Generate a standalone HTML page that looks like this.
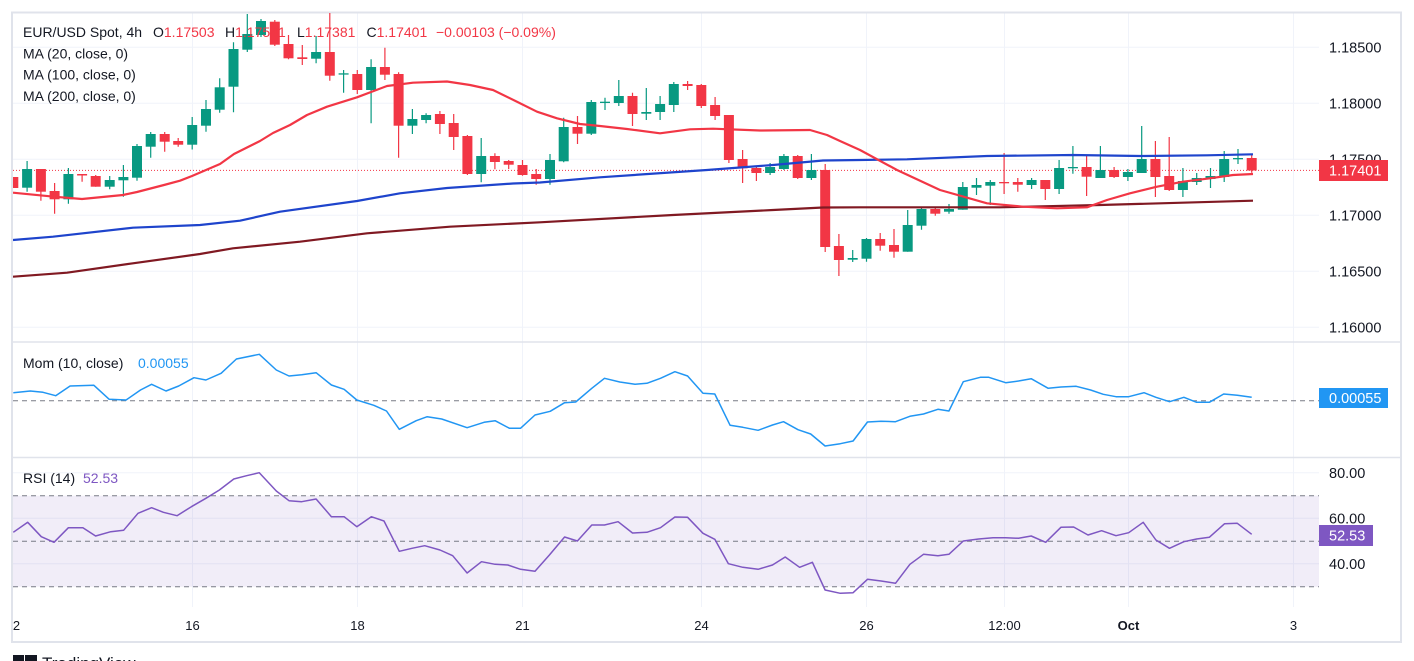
<!DOCTYPE html>
<html><head><meta charset="utf-8"><style>
html,body{margin:0;padding:0;background:#fff;width:1414px;height:661px;overflow:hidden}
svg{display:block}
text{font-family:"Liberation Sans",Arial,sans-serif}
</style></head><body>
<svg width="1414" height="661" viewBox="0 0 1414 661" xmlns="http://www.w3.org/2000/svg">
<defs>
<clipPath id="cm"><rect x="13" y="13" width="1306" height="329"/></clipPath>
<clipPath id="cp"><rect x="13" y="343" width="1306" height="114"/></clipPath>
<clipPath id="cr"><rect x="13" y="458" width="1306" height="149"/></clipPath>
</defs>
<rect width="1414" height="661" fill="#fff"/>
<g stroke="#f0f3fa" stroke-width="1">
<path d="M192.5 13V607M357.5 13V607M522.5 13V607M701.5 13V607M866.5 13V607M1004.5 13V607M1128.5 13V607M1293.5 13V607"/>
<path d="M13 47.3H1319M13 103.3H1319M13 159.3H1319M13 215.3H1319M13 271.3H1319M13 327.3H1319"/>
<path d="M13 472.7H1319M13 518.3H1319M13 563.7H1319"/>
</g>
<rect x="13" y="495.7" width="1306" height="91" fill="#7e57c2" fill-opacity="0.11"/>
<g stroke="#787b86" stroke-width="1" stroke-dasharray="5 4">
<path d="M13 495.7H1319M13 541.3H1319M13 586.7H1319"/>
<path d="M13 400.7H1319"/>
</g>
<g stroke="#e0e3eb" stroke-width="1.5">
<path d="M13 342H1401M13 457.5H1401"/>
</g>
<rect x="12" y="12.5" width="1389" height="629.5" fill="none" stroke="#e0e3eb" stroke-width="2"/>
<path d="M13 170.4H1319" stroke="#f23645" stroke-width="1" stroke-dasharray="1 2"/>
<g clip-path="url(#cm)">
<path stroke="#089981" stroke-width="1.2" fill="none" d="M27.1 161V191.7M68.4 168V203.7M109.7 176V189.3M123.4 165V196.7M137 144V180.7M150.7 132V157.7M192.2 117V149.5M206 100V131.7M219.7 78.3V112.7M233.5 42.3V112.3M247.3 14V52M261 19V37M316.1 36V63.3M343.6 70V92.7M371.1 59.3V123.3M412.4 109V134M426.1 113.3V123.3M481.2 138V182.3M550 154V184.7M563.7 117.7V162.3M591.3 100V135M605 97.7V110M618.8 80V106M646.3 88V120M660.1 96V120M673.8 82V112M770.1 163V175M783.9 154V170M811.4 154V180M852.7 250V262M866.5 238V261.7M907.7 210V251.7M921.5 207.7V229.7M949 204V213.7M962.8 182V209.7M976.5 178V195M990.3 180V205M1031.6 178V189M1059.1 160V194M1072.9 146V173.7M1100.4 146V178M1127.9 169V181M1141.7 126V173M1182.9 168V197M1196.7 173V185M1210.5 168V188M1224.2 151V182M1238 149V164"/>
<path stroke="#f23645" stroke-width="1.2" fill="none" d="M40.9 169V200.7M54.6 183V213.7M82.1 174V181.7M95.7 175V186.7M164.7 132V151.7M178.2 138V146.7M274.8 20V46M288.5 35V59.3M302.3 45V65M329.8 13V80.7M357.3 70V94M384.9 47.7V80M398.6 72.3V157.7M439.9 111V134M453.7 114V150M467.4 135V175M494.9 153.3V169.3M508.7 160V169M522.5 160V175.7M536.2 169V184.7M577.5 116V144M632.5 92.7V126M687.6 81V90M701.3 84V108M715.1 97V120M728.9 115V163M742.6 150V183M756.4 166V181M797.7 155V179M825.2 164V252M838.9 234V276M880.2 233V250.7M894 229V257.7M935.3 207.7V215.7M1004.1 153V194M1017.8 178V191.7M1045.3 180V200M1086.6 156V196M1114.1 167V178M1155.4 141V197M1169.2 137V191M1251.7 154.7V172.7"/>
<g fill="#089981">
<rect x="22.1" y="169" width="10" height="18.7"/>
<rect x="63.4" y="174" width="10" height="25.3"/>
<rect x="104.7" y="180" width="10" height="6.7"/>
<rect x="118.4" y="177" width="10" height="3.3"/>
<rect x="132" y="146" width="10" height="31.7"/>
<rect x="145.7" y="134" width="10" height="12.7"/>
<rect x="187.2" y="125" width="10" height="19.7"/>
<rect x="201" y="109" width="10" height="16.7"/>
<rect x="214.7" y="87.3" width="10" height="22.4"/>
<rect x="228.5" y="49" width="10" height="37.7"/>
<rect x="242.3" y="34" width="10" height="15.7"/>
<rect x="256" y="21" width="10" height="14"/>
<rect x="311.1" y="52" width="10" height="6.7"/>
<rect x="338.6" y="73.3" width="10" height="1.3"/>
<rect x="366.1" y="67" width="10" height="23"/>
<rect x="407.4" y="119" width="10" height="6.7"/>
<rect x="421.1" y="115" width="10" height="5"/>
<rect x="476.2" y="156" width="10" height="18"/>
<rect x="545" y="160" width="10" height="19"/>
<rect x="558.7" y="127" width="10" height="34.3"/>
<rect x="586.3" y="102" width="10" height="31.7"/>
<rect x="600" y="101.7" width="10" height="1.3"/>
<rect x="613.8" y="96" width="10" height="7"/>
<rect x="641.3" y="112" width="10" height="1.7"/>
<rect x="655.1" y="104" width="10" height="8"/>
<rect x="668.8" y="84" width="10" height="21"/>
<rect x="765.1" y="167" width="10" height="6"/>
<rect x="778.9" y="156" width="10" height="13"/>
<rect x="806.4" y="170" width="10" height="8"/>
<rect x="847.7" y="258" width="10" height="1.7"/>
<rect x="861.5" y="239" width="10" height="19.7"/>
<rect x="902.7" y="225" width="10" height="26.7"/>
<rect x="916.5" y="209" width="10" height="16.7"/>
<rect x="944" y="209" width="10" height="2.7"/>
<rect x="957.8" y="187" width="10" height="22.7"/>
<rect x="971.5" y="185" width="10" height="2.7"/>
<rect x="985.3" y="182" width="10" height="3.7"/>
<rect x="1026.6" y="180" width="10" height="5"/>
<rect x="1054.1" y="168" width="10" height="21"/>
<rect x="1067.9" y="167" width="10" height="1.3"/>
<rect x="1095.4" y="170" width="10" height="8"/>
<rect x="1122.9" y="172" width="10" height="5"/>
<rect x="1136.7" y="159" width="10" height="14"/>
<rect x="1177.9" y="181" width="10" height="9"/>
<rect x="1191.7" y="178" width="10" height="4"/>
<rect x="1205.5" y="176" width="10" height="3"/>
<rect x="1219.2" y="159" width="10" height="18"/>
<rect x="1233" y="158" width="10" height="1.3"/>
</g>
<g fill="#f23645">
<rect x="8.3" y="177" width="10" height="11"/>
<rect x="35.9" y="169" width="10" height="22.7"/>
<rect x="49.6" y="191" width="10" height="8.3"/>
<rect x="77.1" y="174" width="10" height="1.5"/>
<rect x="90.7" y="176" width="10" height="10.7"/>
<rect x="159.7" y="134" width="10" height="7.7"/>
<rect x="173.2" y="141" width="10" height="3.7"/>
<rect x="269.8" y="21.7" width="10" height="23"/>
<rect x="283.5" y="44" width="10" height="14.3"/>
<rect x="297.3" y="57.3" width="10" height="1.7"/>
<rect x="324.8" y="52" width="10" height="23.7"/>
<rect x="352.3" y="74" width="10" height="16"/>
<rect x="379.9" y="67" width="10" height="7.7"/>
<rect x="393.6" y="74" width="10" height="51.7"/>
<rect x="434.9" y="114" width="10" height="10"/>
<rect x="448.7" y="123" width="10" height="14"/>
<rect x="462.4" y="136" width="10" height="38"/>
<rect x="489.9" y="156" width="10" height="6"/>
<rect x="503.7" y="161" width="10" height="3.7"/>
<rect x="517.5" y="165" width="10" height="10"/>
<rect x="531.2" y="174" width="10" height="5"/>
<rect x="572.5" y="127" width="10" height="6.7"/>
<rect x="627.5" y="96" width="10" height="18"/>
<rect x="682.6" y="84" width="10" height="2"/>
<rect x="696.3" y="85" width="10" height="21"/>
<rect x="710.1" y="105" width="10" height="11"/>
<rect x="723.9" y="115" width="10" height="45"/>
<rect x="737.6" y="159" width="10" height="9.3"/>
<rect x="751.4" y="168" width="10" height="5"/>
<rect x="792.7" y="156" width="10" height="22"/>
<rect x="820.2" y="170" width="10" height="77"/>
<rect x="833.9" y="246" width="10" height="14"/>
<rect x="875.2" y="239" width="10" height="6.7"/>
<rect x="889" y="245" width="10" height="6.7"/>
<rect x="930.3" y="209" width="10" height="4.7"/>
<rect x="999.1" y="182" width="10" height="1.3"/>
<rect x="1012.8" y="182" width="10" height="2.7"/>
<rect x="1040.3" y="180" width="10" height="9"/>
<rect x="1081.6" y="167" width="10" height="9.7"/>
<rect x="1109.1" y="170" width="10" height="7"/>
<rect x="1150.4" y="159" width="10" height="18"/>
<rect x="1164.2" y="176" width="10" height="14"/>
<rect x="1246.7" y="158" width="10" height="12.5"/>
</g>
<polyline fill="none" stroke="#801922" stroke-width="2.2" stroke-linejoin="round" points="13,276.7 67,272.7 133,263.3 200,254 233,248.3 300,241.7 367,233.3 450,226.7 540,222.3 673,215 773,210 823,207.5 860,207.3 1000,207.3 1100,205 1253,200.7"/>
<polyline fill="none" stroke="#1e44cc" stroke-width="2.2" stroke-linejoin="round" points="13,240 53,236.7 133,227.7 200,225 240,220.7 280,211.7 357,201 400,193.3 447,188 513,183.5 540,182.5 600,177.3 707,170 773,165 823,160.5 860,160 907,159.3 987,156 1073,155 1140,156 1207,155.3 1253,154.3"/>
<polyline fill="none" stroke="#f23645" stroke-width="2.2" stroke-linejoin="round" points="13,192.7 54,196.7 82,199 123,195 137,192 164,185 180,180.7 192,176 220,164 234,154 260,141 273,133 290,125 307,115 327,106.7 357,97.3 387,86 413,82.7 447,81.5 470,85 493,90 517,101.7 537,111.7 557,118.3 580,124 600,126 627,129 660,133.3 690,129.3 713,128.7 760,130.5 810,130 827,135 840,141 860,150 897,170 940,190 987,203.3 1023,206.7 1057,208.3 1087,207.3 1107,200 1130,193.3 1157,186.7 1183,181.7 1210,178.3 1233,175 1253,174"/>
</g>
<polyline clip-path="url(#cp)" fill="none" stroke="#2196f3" stroke-width="1.5" stroke-linejoin="round" points="13.3,392.7 30.3,391 43,392.3 55.7,395.7 70.1,386 93.9,385.3 109.2,399.3 126.1,400 140.5,390 151.6,384.3 166,391 178.7,386 194,377.7 205.9,380 221.1,373.3 236.4,359 259.3,354.3 276.3,370 289,376 301.7,374.7 316.1,372.7 331.4,385 344.1,389.3 356.8,400 373.8,405.3 386.5,411 399.3,429.3 416.2,420.7 427.2,416.7 441.7,419 467.1,427.7 484.1,422.3 495.1,420.7 509.5,428.3 520.5,428.3 535,415 550.2,411.3 564.6,402.7 575.7,402 591.8,388.3 604.5,378.3 619.8,382 635,384.3 646.9,383.3 660.5,378.3 674.9,371.7 687.6,376 703,393.3 714.8,394 730.1,425.3 742.8,427.3 758.1,430.3 772.5,425 783.5,421.7 798,429.7 810.7,434 825.1,446 840.3,443.7 853.1,441 867.5,422 881.1,421.3 895.5,421.7 909.9,416.3 923.5,414 937.9,409.3 948.9,411 963.3,381.7 980.3,377.3 988.8,377.3 1005.7,382.7 1018.5,381 1031.2,378.7 1048.2,388.3 1060.9,387 1076.2,386.3 1090.6,390 1103.3,394.3 1116,396.7 1128.7,396.7 1144,392.7 1155.9,397.3 1169.5,401.7 1183.9,397.3 1196.6,402.3 1209.3,402.3 1223.7,394 1237.3,395.3 1251.7,397.3"/>
<polyline clip-path="url(#cr)" fill="none" stroke="#7e57c2" stroke-width="1.5" stroke-linejoin="round" points="13.3,532.3 27.7,522.3 41.3,536.7 54,542.3 68.4,527.7 82.9,527.7 95.6,536 110.8,531.7 123.6,530.3 138,513.3 151.6,507.7 163.4,512.3 177,515.7 191.4,506.7 205.9,498.3 219.4,490 233.8,479 246.6,475.7 259.3,472.7 276.3,491 289,500.7 301.7,501.7 316.1,499 331.4,516.7 344.1,516.7 356.8,526.7 371.3,516.7 384,521 399.3,551.3 412,548.3 424.7,545.7 440,550 452.7,555.7 467.1,573 481.5,561.7 495.1,564.3 507.8,565 520.5,569.3 535,571.3 549.4,555 564.6,537 577.4,541 591.8,525 604.5,525 618.1,521.7 632.5,533 646.9,532.3 660.5,527.7 674.9,517 687.6,517.3 703,533.3 714.8,539.3 728.4,563.7 742.8,567.3 758.1,569.3 772.5,565 785.2,557 799.6,567.3 812.4,562.3 825.1,590 840.3,593.3 853.1,592.7 867.5,579.3 881.1,581 895.5,583.3 909.9,564.3 923.5,554.3 937.9,555.7 948.9,554.3 963.3,541 978.6,539 993,537.7 1005.7,537.7 1018.5,538.3 1031.2,536 1045.7,542.3 1060.9,527.3 1073.6,527 1088,535 1101.6,530.7 1116,535.7 1128.7,532.7 1143.2,522.3 1155.9,540 1169.5,548.3 1183.9,541.7 1196.6,539 1209.3,537.3 1224.6,523.7 1237.3,523.3 1251.7,534.3"/>
<g font-size="14" fill="#131722">
<text x="23" y="37">EUR/USD Spot, 4h</text>
<text x="153" y="37">O<tspan fill="#f23645">1.17503</tspan></text>
<text x="225" y="37">H<tspan fill="#f23645">1.17541</tspan></text>
<text x="297" y="37">L<tspan fill="#f23645">1.17381</tspan></text>
<text x="366.5" y="37">C<tspan fill="#f23645">1.17401</tspan></text>
<text x="436" y="37" fill="#f23645">−0.00103 (−0.09%)</text>
<text x="23" y="58.5">MA (20, close, 0)</text>
<text x="23" y="79.5">MA (100, close, 0)</text>
<text x="23" y="101">MA (200, close, 0)</text>
<text x="23" y="368">Mom (10, close)</text>
<text x="138" y="368" fill="#2196f3">0.00055</text>
<text x="23" y="483">RSI (14)</text>
<text x="83" y="483" fill="#7e57c2">52.53</text>
</g>
<g font-size="14.5" fill="#131722">
<text x="1329" y="52.5">1.18500</text>
<text x="1329" y="108.5">1.18000</text>
<text x="1329" y="164.5">1.17500</text>
<text x="1329" y="220.5">1.17000</text>
<text x="1329" y="276.5">1.16500</text>
<text x="1329" y="332.5">1.16000</text>
<text x="1329" y="478">80.00</text>
<text x="1329" y="523.5">60.00</text>
<text x="1329" y="569">40.00</text>
</g>
<rect x="1319" y="160" width="69" height="21" fill="#f23645"/>
<text x="1329" y="175.5" font-size="14.5" fill="#fff">1.17401</text>
<rect x="1319" y="388" width="69" height="20" fill="#2196f3"/>
<text x="1329" y="403" font-size="14.5" fill="#fff">0.00055</text>
<rect x="1319" y="525" width="54" height="21" fill="#7e57c2"/>
<text x="1329" y="540.5" font-size="14.5" fill="#fff">52.53</text>
<g font-size="13" fill="#131722" text-anchor="middle">
<text x="16.5" y="630">2</text>
<text x="192.5" y="630">16</text>
<text x="357.5" y="630">18</text>
<text x="522.5" y="630">21</text>
<text x="701.5" y="630">24</text>
<text x="866.5" y="630">26</text>
<text x="1004.5" y="630">12:00</text>
<text x="1128.5" y="630" font-weight="bold">Oct</text>
<text x="1293.5" y="630">3</text>
</g>
<rect x="13" y="655" width="11" height="10" fill="#131722"/>
<rect x="25" y="655" width="12" height="10" fill="#131722"/>
<text x="42" y="669" font-size="17" fill="#131722">TradingView</text>
</svg>
</body></html>
